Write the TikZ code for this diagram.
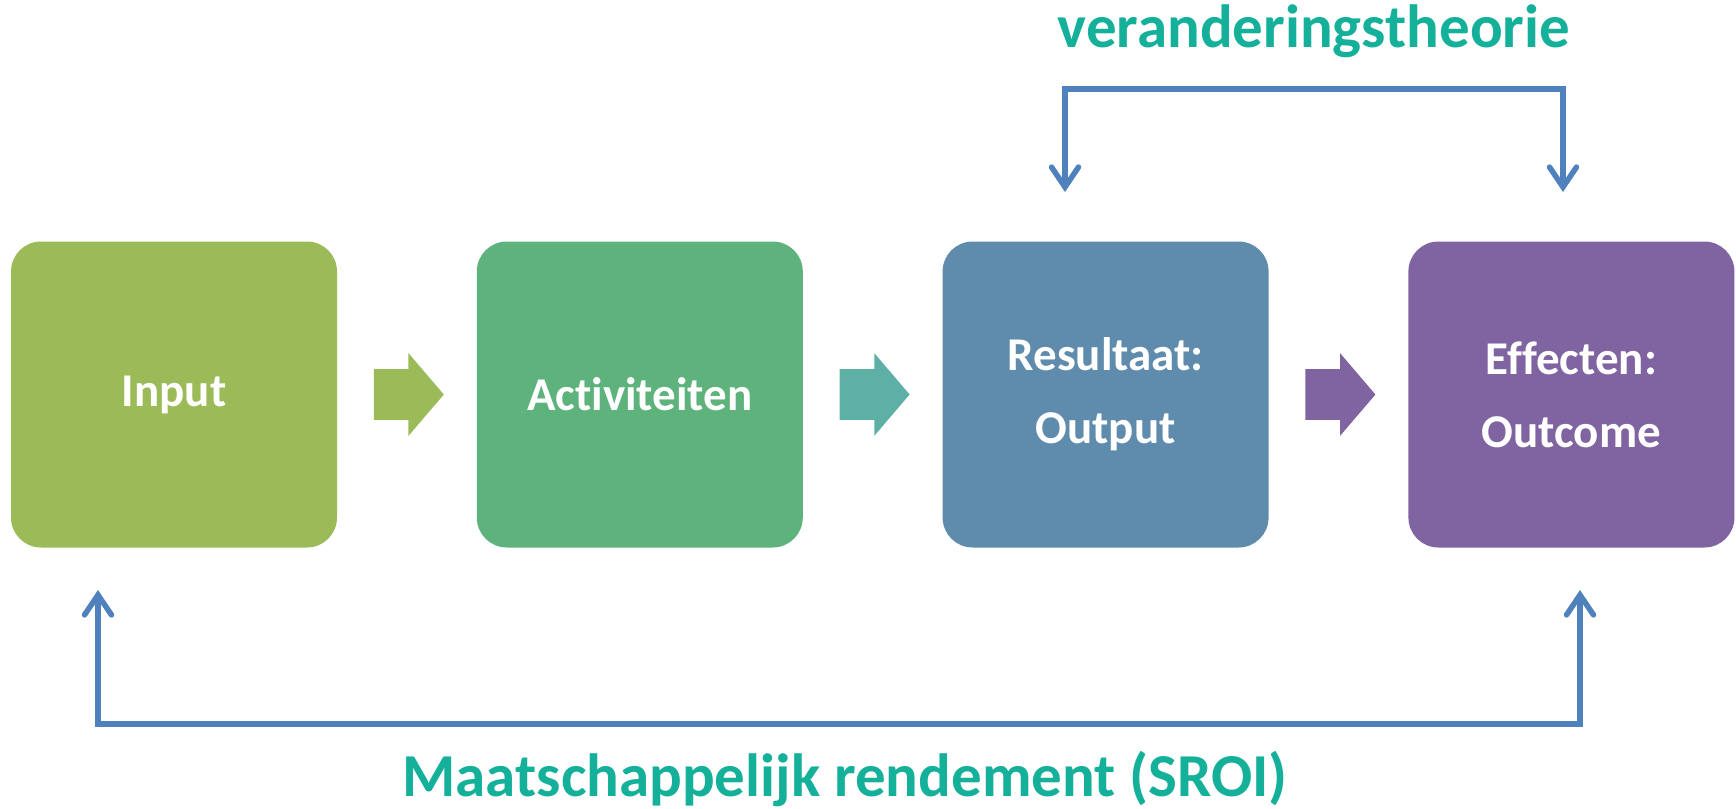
\documentclass[tikz,border=0pt]{standalone}
\usepackage{fontspec}
\setmainfont{Carlito}[Ligatures=NoCommon]
\usetikzlibrary{arrows.meta,positioning,shapes.arrows,calc}

\definecolor{inputgreen}{HTML}{9BBB59}
\definecolor{actgreen}{HTML}{5EB37C}
\definecolor{arrowteal}{HTML}{5EAFA6}
\definecolor{outblue}{HTML}{5F8CAD}
\definecolor{effpurple}{HTML}{8064A2}
\definecolor{lineblue}{HTML}{4F81BD}
\definecolor{labelteal}{HTML}{14B09A}

\begin{document}
\begin{tikzpicture}[x=0.5pt, y=-0.5pt,
    stage/.style={rounded corners=15pt, minimum width=163pt, minimum height=153pt,
                  fill=#1, text=white, inner sep=0pt, align=center,
                  font=\fontsize{23.5}{36.5}\selectfont\bfseries},
    flowarrow/.style={single arrow, fill=#1, inner xsep=0pt, inner ysep=12.5pt,
                      minimum width=41pt, minimum height=35pt,
                      single arrow head extend=8pt, single arrow tip angle=99},
    loopline/.style={draw=lineblue, line width=#1, line join=miter},
    looptip/.style={-{Straight Barb[length=10pt, width=13.5pt, line cap=round]}},
    looplabel/.style={text=labelteal, font=\fontsize{30.5}{36}\selectfont\bfseries}
]
\useasboundingbox (0,0) rectangle (1736,809);

%% Stages
\node[stage=inputgreen] (input) at (174,394.5) {Input};
\node[stage=actgreen, right=69.5pt of input] (act) {Activiteiten};
\node[stage=outblue, right=69.5pt of act] (outp) {Resultaat:\\Output};
\node[stage=effpurple, right=69.5pt of outp] (eff) {Effecten:\\Outcome};

%% Block arrows
\node[flowarrow=inputgreen, right=18pt of input] (a1) {};
\node[flowarrow=arrowteal, right=18pt of act] (a2) {};
\node[flowarrow=effpurple, right=18pt of outp] (a3) {};

%% Theory of change bracket
\coordinate (t1) at (1065,192);
\coordinate (t2) at (1065,89);
\coordinate (t3) at (1563,89);
\coordinate (t4) at (1563,192);
\draw[loopline=2.75pt, looptip] (t2) -- (t1);
\draw[loopline=2.75pt, looptip] (t3) -- (t4);
\draw[loopline=3pt] ($(t2)+(-2.75,0)$) -- ($(t3)+(2.75,0)$);
\node[looplabel] (theory) at ($(t2)!0.5!(t3)+(0,-58)$) {veranderingstheorie};

%% SROI bracket
\coordinate (b1) at (98,590);
\coordinate (b2) at (98,724);
\coordinate (b3) at (1580,724);
\coordinate (b4) at (1580,590);
\draw[loopline=2.75pt, looptip] (b2) -- (b1);
\draw[loopline=2.75pt, looptip] (b3) -- (b4);
\draw[loopline=3pt] ($(b2)+(-2.75,0)$) -- ($(b3)+(2.75,0)$);
\node[looplabel] (sroi) at (845,779) {Maatschappelijk rendement (SROI)};

\end{tikzpicture}
\end{document}
